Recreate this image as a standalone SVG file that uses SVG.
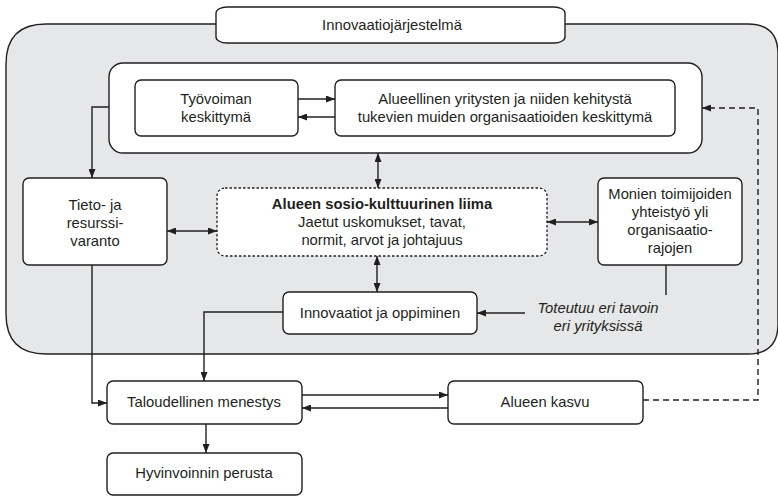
<svg xmlns="http://www.w3.org/2000/svg" width="778" height="496" viewBox="0 0 778 496">
<defs>
<style>
text{font-family:"Liberation Sans",Arial,sans-serif;font-size:14.8px;fill:#231f20;text-anchor:middle}
.b{font-weight:bold}
.i{font-style:italic}
.box{fill:#fff;stroke:#231f20;stroke-width:1.4}
.ln{fill:none;stroke:#231f20;stroke-width:1.4}
.dash{fill:none;stroke:#231f20;stroke-width:1.4;stroke-dasharray:6,4}
</style>
<marker id="ah" viewBox="0 0 10 10" refX="10" refY="5" markerWidth="9" markerHeight="7" markerUnits="userSpaceOnUse" orient="auto-start-reverse" preserveAspectRatio="none">
<path d="M0,0 L10,5 L0,10 Z" fill="#231f20"/>
</marker>
</defs>
<rect width="778" height="496" fill="#fff"/>
<g id="system">
<path d="M46,24 H748 Q778,24 778,54 V324 Q778,354 748,354 H46 Q6,354 6,314 V64 Q6,24 46,24 Z" fill="#e6e7e8" stroke="#231f20" stroke-width="1.4"/>
</g>
<g id="title">
<rect class="box" x="216" y="7" width="349" height="36" rx="11" ry="6"/>
<text x="392" y="30">Innovaatiojärjestelmä</text>
</g>
<g id="container">
<rect class="box" x="109" y="63" width="593" height="90" rx="14"/>
</g>
<g id="tyovoima">
<rect class="box" x="135" y="80" width="163" height="56" rx="6"/>
<text x="216" y="104">Työvoiman</text>
<text x="216" y="122">keskittymä</text>
</g>
<g id="alueellinen">
<rect class="box" x="335" y="80" width="340" height="56" rx="6"/>
<text x="505" y="104">Alueellinen yritysten ja niiden kehitystä</text>
<text x="505" y="122">tukevien muiden organisaatioiden keskittymä</text>
</g>
<g id="tieto">
<rect class="box" x="23" y="178" width="144" height="87" rx="6"/>
<text x="95" y="210">Tieto- ja</text>
<text x="95" y="228">resurssi-</text>
<text x="95" y="246">varanto</text>
</g>
<g id="liima">
<rect x="217" y="188" width="330" height="68" rx="8" fill="#fff" stroke="#231f20" stroke-width="1.3" stroke-dasharray="2.5,2"/>
<text class="b" x="382" y="209">Alueen sosio-kulttuurinen liima</text>
<text x="382" y="227">Jaetut uskomukset, tavat,</text>
<text x="382" y="245">normit, arvot ja johtajuus</text>
</g>
<g id="monien">
<rect class="box" x="598" y="178" width="144" height="87" rx="6"/>
<text x="670" y="199">Monien toimijoiden</text>
<text x="670" y="217">yhteistyö yli</text>
<text x="670" y="235">organisaatio-</text>
<text x="670" y="253">rajojen</text>
</g>
<g id="innovaatiot">
<rect class="box" x="283" y="292" width="194" height="42" rx="6"/>
<text x="380" y="318">Innovaatiot ja oppiminen</text>
</g>
<g id="toteutuu">
<text class="i" x="598" y="313">Toteutuu eri tavoin</text>
<text class="i" x="598" y="331">eri yrityksissä</text>
</g>
<g id="taloudellinen">
<rect class="box" x="107" y="381" width="195" height="43" rx="6"/>
<text x="204" y="407">Taloudellinen menestys</text>
</g>
<g id="kasvu">
<rect class="box" x="448" y="381" width="195" height="43" rx="6"/>
<text x="545" y="407">Alueen kasvu</text>
</g>
<g id="hyvinvointi">
<rect class="box" x="107" y="453" width="195" height="42" rx="6"/>
<text x="204" y="478">Hyvinvoinnin perusta</text>
</g>
<g id="connectors">
<line class="ln" x1="298" y1="99" x2="335" y2="99" marker-end="url(#ah)"/>
<line class="ln" x1="335" y1="117" x2="298" y2="117" marker-end="url(#ah)"/>
<polyline class="ln" points="109,107 92,107 92,178" marker-end="url(#ah)"/>
<line class="ln" x1="378" y1="153" x2="378" y2="188" marker-start="url(#ah)" marker-end="url(#ah)"/>
<line class="ln" x1="167" y1="231" x2="217" y2="231" marker-start="url(#ah)" marker-end="url(#ah)"/>
<line class="ln" x1="547" y1="222" x2="598" y2="222" marker-start="url(#ah)" marker-end="url(#ah)"/>
<line class="ln" x1="377" y1="256" x2="377" y2="292" marker-start="url(#ah)" marker-end="url(#ah)"/>
<line class="ln" x1="666" y1="265" x2="666" y2="295"/>
<line class="ln" x1="525" y1="313" x2="477" y2="313" marker-end="url(#ah)"/>
<polyline class="ln" points="283,312 204,312 204,381" marker-end="url(#ah)"/>
<polyline class="ln" points="92,265 92,403 107,403" marker-end="url(#ah)"/>
<line class="ln" x1="302" y1="395" x2="448" y2="395" marker-end="url(#ah)"/>
<line class="ln" x1="448" y1="408" x2="302" y2="408" marker-end="url(#ah)"/>
<line class="ln" x1="206" y1="424" x2="206" y2="453" marker-end="url(#ah)"/>
<polyline class="dash" points="643,400 758,400 758,108 702,108" marker-end="url(#ah)"/>
</g>
</svg>
